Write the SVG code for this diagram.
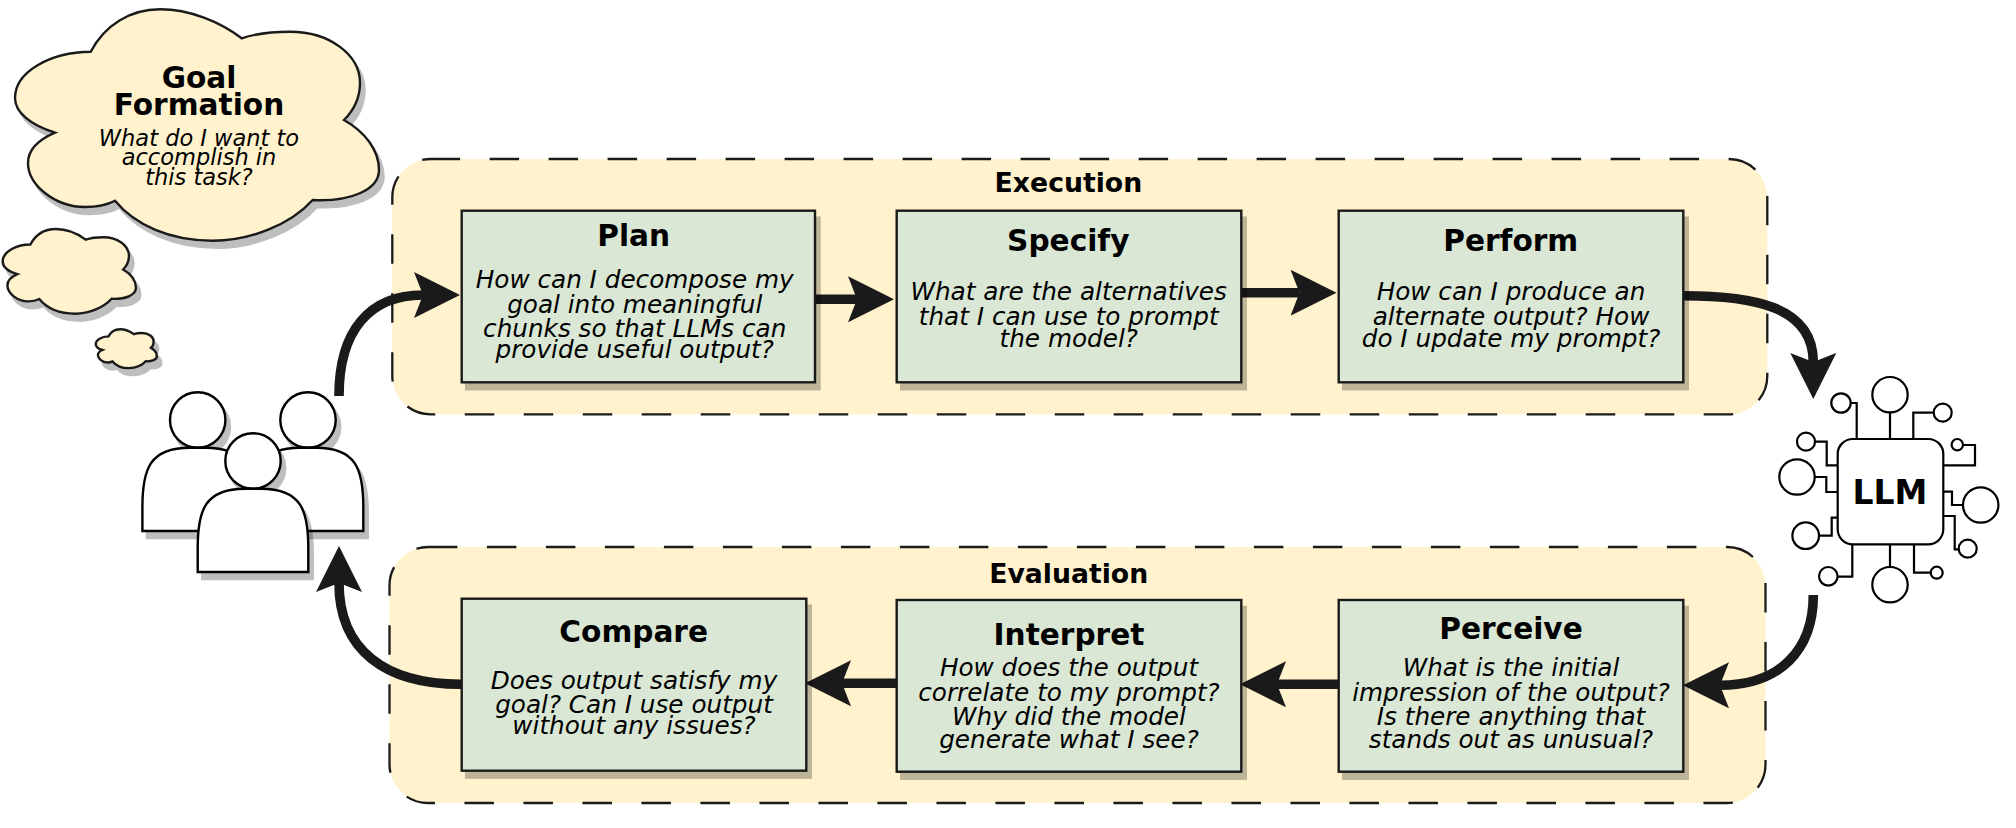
<svg xmlns="http://www.w3.org/2000/svg" width="2016" height="828" viewBox="0 0 2016 828">
<style>
text{font-family:"DejaVu Sans","Liberation Sans",sans-serif;text-anchor:middle;fill:#000}
.t{font-size:29.6px;font-weight:bold}
.g{font-size:26.7px;font-weight:bold}
.b{font-size:24.7px;font-style:italic}
.c{font-size:22.5px;font-style:italic}
.llm{font-size:33px;font-weight:bold}
.panel{fill:#fff2cc;stroke:#1a1a1a;stroke-width:2.3;stroke-dasharray:29.5 29.5}
.box{fill:#d9e7d4;stroke:#1a1a1a;stroke-width:2.4}
.sh{fill:#000;stroke:#000;stroke-width:2.4;opacity:.25}
.cloud{fill:#fff2cc;stroke:#1a1a1a;stroke-width:2.4}
.cloudsh{fill:#000;stroke:#000;stroke-width:2.4;opacity:.25}
.p{fill:#fff;stroke:#000;stroke-width:2.4}
.wire{fill:none;stroke:#000;stroke-width:2.2}
.pin{fill:#fff;stroke:#000;stroke-width:2.2}
.arrow{fill:none;stroke:#1a1a1a;stroke-width:9.6;marker-end:url(#head)}
</style>
<defs>
<marker id="head" markerUnits="userSpaceOnUse" markerWidth="46" markerHeight="46" refX="9" refY="23" orient="auto" viewBox="0 0 46 46">
<path d="M46 23L0 0L9 23L0 46Z" fill="#1a1a1a"/>
</marker>
<path id="cl" vector-effect="non-scaling-stroke" d="M90.7 51.7C105 25 130 9.3 160 9.3C190 9.3 220 22 241.7 38.3C258 33 275 31.7 290 31.7C330 31.7 360 55 360 83C360 97 354 110 344 120C365 132 379 150 379 170C379 190 350 202 312.7 200C290 225 250 240.7 213 240.7C170 240.7 135 225 115 200.7C105 206 95 207 85 207C55 207 28 185 28 163C28 150 38 140 55 132.7C30 125 15 112 15 98C15 72 50 52 90.7 51.7Z"/>
<g id="person">
<circle cx="0" cy="-27.7" r="27.7"/>
<path d="M-55.3 83.3V59.3C-55.3 21.3 -48 0 -8 0H8C48 0 55.3 21.3 55.3 59.3V83.3Z"/>
</g>
</defs>

<g id="execution">
<rect class="panel" x="392.3" y="159" width="1375" height="255.3" rx="38.3"/>
<text class="g" x="1068.4" y="191.7">Execution</text>
</g>
<g id="evaluation">
<rect class="panel" x="389.5" y="547" width="1376" height="256" rx="38.4"/>
<text class="g" x="1068.7" y="582.7">Evaluation</text>
</g>

<g id="connectors">
<path class="arrow" d="M339 396C339 330 370 295 423 295"/>
<path class="arrow" d="M815 299.3H857"/>
<path class="arrow" d="M1241 292.7H1299.5"/>
<path class="arrow" d="M1683 295.7C1750 295.7 1813.3 305 1813.3 362"/>
<path class="arrow" d="M1813.3 595C1813.3 650 1780 685.3 1720 685.3"/>
<path class="arrow" d="M1338.7 684.3H1277"/>
<path class="arrow" d="M896.7 683.3H842"/>
<path class="arrow" d="M461 684.3C385 684.3 339 650 339 583"/>
</g>

<g id="goal">
<use href="#cl" class="cloudsh" transform="translate(4.5 7)"/>
<use href="#cl" class="cloud"/>
<text class="t" x="199" y="87.5">Goal</text>
<text class="t" x="199" y="114.7">Formation</text>
<text class="c" x="199" y="145.7">What do I want to</text>
<text class="c" x="199" y="165">accomplish in</text>
<text class="c" x="199" y="185">this task?</text>
</g>
<g id="thought-medium">
<use href="#cl" class="cloudsh" transform="translate(1.7 232.6) scale(.366)"/>
<use href="#cl" class="cloud" transform="translate(-2.8 225.6) scale(.366)"/>
</g>
<g id="thought-small">
<use href="#cl" class="cloudsh" transform="translate(97.7 334.7) scale(.168)"/>
<use href="#cl" class="cloud" transform="translate(93.2 327.7) scale(.168)"/>
</g>

<g id="users">
<use href="#person" class="sh" transform="translate(202.2 454.7)"/>
<use href="#person" class="p" transform="translate(197.7 447.7)"/>
<use href="#person" class="sh" transform="translate(312.5 454.7)"/>
<use href="#person" class="p" transform="translate(308 447.7)"/>
<use href="#person" class="sh" transform="translate(257.5 495.7)"/>
<use href="#person" class="p" transform="translate(253 488.7)"/>
</g>

<g id="plan">
<rect class="sh" x="466.2" y="217.7" width="353.3" height="171.6"/>
<rect class="box" x="461.7" y="210.7" width="353.3" height="171.6"/>
<text class="t" x="633.7" y="246.2">Plan</text>
<text class="b" x="634.7" y="287.7">How can I decompose my</text>
<text class="b" x="634.7" y="312.7">goal into meaningful</text>
<text class="b" x="634.7" y="336.7">chunks so that LLMs can</text>
<text class="b" x="634.7" y="358.3">provide useful output?</text>
</g>
<g id="specify">
<rect class="sh" x="901.2" y="217.7" width="344.6" height="171.6"/>
<rect class="box" x="896.7" y="210.7" width="344.6" height="171.6"/>
<text class="t" x="1068.3" y="251">Specify</text>
<text class="b" x="1068.7" y="300">What are the alternatives</text>
<text class="b" x="1068.7" y="325">that I can use to prompt</text>
<text class="b" x="1068.7" y="346.7">the model?</text>
</g>
<g id="perform">
<rect class="sh" x="1343.2" y="217.7" width="344.6" height="171.6"/>
<rect class="box" x="1338.7" y="210.7" width="344.6" height="171.6"/>
<text class="t" x="1510.7" y="251">Perform</text>
<text class="b" x="1511" y="300">How can I produce an</text>
<text class="b" x="1511" y="325">alternate output? How</text>
<text class="b" x="1511" y="346.7">do I update my prompt?</text>
</g>
<g id="compare">
<rect class="sh" x="466.2" y="605.7" width="344.6" height="172"/>
<rect class="box" x="461.7" y="598.7" width="344.6" height="172"/>
<text class="t" x="633.7" y="642">Compare</text>
<text class="b" x="634" y="689">Does output satisfy my</text>
<text class="b" x="634" y="713.3">goal? Can I use output</text>
<text class="b" x="634" y="734.3">without any issues?</text>
</g>
<g id="interpret">
<rect class="sh" x="901.2" y="607" width="344.6" height="171.7"/>
<rect class="box" x="896.7" y="600" width="344.6" height="171.7"/>
<text class="t" x="1069" y="644.5">Interpret</text>
<text class="b" x="1069" y="675.7">How does the output</text>
<text class="b" x="1069" y="701">correlate to my prompt?</text>
<text class="b" x="1069" y="725">Why did the model</text>
<text class="b" x="1069" y="747.7">generate what I see?</text>
</g>
<g id="perceive">
<rect class="sh" x="1343.2" y="607" width="344.6" height="171.7"/>
<rect class="box" x="1338.7" y="600" width="344.6" height="171.7"/>
<text class="t" x="1511" y="639.3">Perceive</text>
<text class="b" x="1511" y="675.7">What is the initial</text>
<text class="b" x="1511" y="701">impression of the output?</text>
<text class="b" x="1511" y="725">Is there anything that</text>
<text class="b" x="1511" y="747.7">stands out as unusual?</text>
</g>

<g id="llm">
<path class="wire" d="M1890 412V439M1850.7 403H1856.7V439M1933.7 412.7H1913.3V439M1963 445H1975V465.3H1943.3M1963 505H1952V491.7H1943.3M1958.7 549.3H1954.7V516H1943.3M1930.7 572.7H1914V544.3M1890 567V544.3M1837.7 576.7H1852.3V544.3M1819 535.7H1831.7V517.7H1837.7M1814.7 477H1826.3V492H1837.7M1815 441.7H1826.7V465.3H1837.7"/>
<rect class="pin" x="1837.7" y="439" width="105.6" height="105.3" rx="15"/>
<circle class="pin" cx="1890" cy="394.7" r="17.7"/>
<circle class="pin" cx="1841" cy="403" r="9.7"/>
<circle class="pin" cx="1942.7" cy="412.7" r="9"/>
<circle class="pin" cx="1957.3" cy="444.7" r="5.7"/>
<circle class="pin" cx="1980.7" cy="505" r="17.7"/>
<circle class="pin" cx="1967.7" cy="548.7" r="9"/>
<circle class="pin" cx="1936.7" cy="572.7" r="6"/>
<circle class="pin" cx="1890" cy="584.7" r="17.7"/>
<circle class="pin" cx="1828.3" cy="576.3" r="9.3"/>
<circle class="pin" cx="1805.7" cy="535.7" r="13.3"/>
<circle class="pin" cx="1797" cy="477" r="17.7"/>
<circle class="pin" cx="1806" cy="441.7" r="9"/>
<text class="llm" x="1890" y="504.3">LLM</text>
</g>
</svg>
